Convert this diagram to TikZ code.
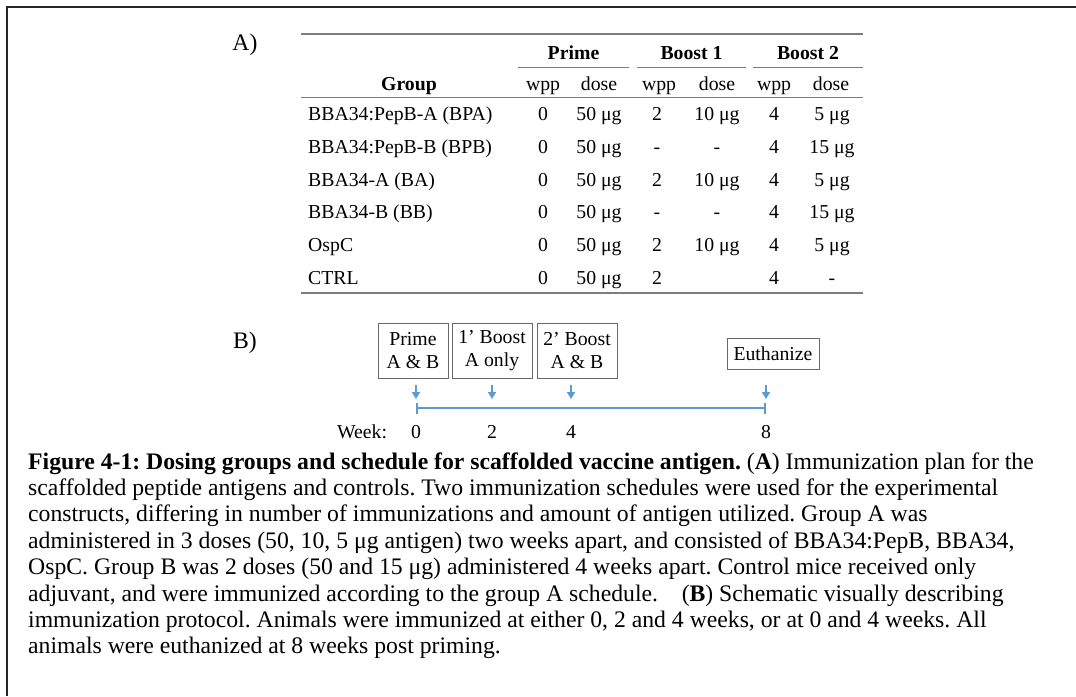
\documentclass[tikz,border=0pt]{standalone}
\usepackage{fontspec}
\setmainfont{Liberation Serif}
\usetikzlibrary{arrows.meta}
\definecolor{rulegray}{RGB}{125,125,125}
\definecolor{tlblue}{RGB}{91,155,213}
\definecolor{boxgray}{RGB}{105,105,105}
\newcommand\tabfont{\fontsize{19.75}{23}\selectfont}
\newcommand\capfont{\fontsize{23.7}{26.4}\selectfont}
\frenchspacing
\begin{document}
\begin{tikzpicture}[x=1pt,y=-1pt,
  cell/.style={anchor=base,inner sep=0pt,font=\tabfont},
  lcell/.style={anchor=base west,inner sep=0pt,font=\tabfont},
  head/.style={cell,font=\tabfont\bfseries},
  rulethick/.style={draw=rulegray,line width=1.6pt},
  rulethin/.style={draw=rulegray,line width=1pt},
  panel/.style={anchor=center,inner sep=0pt,font=\capfont},
  stepbox/.style={draw=boxgray,line width=1pt,inner sep=0pt,align=center,
    font=\fontsize{19.75}{23}\selectfont,minimum height=55pt},
  tick/.style={draw=tlblue,line width=1.6pt,-{Triangle[width=8pt,length=7pt]}},
  weeklbl/.style={anchor=base,inner sep=0pt,font=\tabfont},
  capline/.style={anchor=base west,inner sep=0pt,font=\capfont}]
\useasboundingbox (0,0) rectangle (1076,696);
\fill[white] (0,0) rectangle (1076,696);
% frame
\draw[line width=2pt,black!85] (7,696) -- (7,7) -- (1076,7);

% ---- panel A: dosing table ----
\node[panel] (labA) at (245,45) {A)};
\draw[rulethick] (301,34) -- (863,34);
\node[head] (hPrime) at (573.5,59) {Prime};
\node[head] (hB1) at (691.5,59) {Boost 1};
\node[head] (hB2) at (808,59) {Boost 2};
\draw[rulethin] (518,67) -- (629,67);
\draw[rulethin] (637,67) -- (746,67);
\draw[rulethin] (753,67) -- (863,67);
\node[head] (hGroup) at (409,90) {Group};
\node[cell] (hw1) at (543,90) {wpp};
\node[cell] (hd1) at (599,90) {dose};
\node[cell] (hw2) at (659,90) {wpp};
\node[cell] (hd2) at (717,90) {dose};
\node[cell] (hw3) at (774,90) {wpp};
\node[cell] (hd3) at (831,90) {dose};
\draw[rulethin] (301,97) -- (863,97);
\foreach \r/\y/\g/\a/\b/\c/\d/\e/\f in {
  1/120/BBA34:PepB-A (BPA)/0/50 μg/2/10 μg/4/5 μg,
  2/153/BBA34:PepB-B (BPB)/0/50 μg/-/-/4/15 μg,
  3/186/BBA34-A (BA)/0/50 μg/2/10 μg/4/5 μg,
  4/218/BBA34-B (BB)/0/50 μg/-/-/4/15 μg,
  5/251/OspC/0/50 μg/2/10 μg/4/5 μg,
  6/284/CTRL/0/50 μg/2//4/-}{
  \node[lcell] (g\r) at (308,\y) {\g};
  \node[cell] (w1\r) at (543,\y) {\a};
  \node[cell] (d1\r) at (599,\y) {\b};
  \node[cell] (w2\r) at (657,\y) {\c};
  \node[cell] (d2\r) at (717,\y) {\d};
  \node[cell] (w3\r) at (774,\y) {\e};
  \node[cell] (d3\r) at (832,\y) {\f};
}
\draw[rulethick] (301,293) -- (863,293);

% ---- panel B: schedule ----
\node[panel] (labB) at (245,343) {B)};
\node[stepbox,minimum width=70pt] (prime) at (413,350.5) {Prime\\A \& B};
\node[stepbox,minimum width=80pt] (boost1) at (492,350.5) {1’ Boost\\A only};
\node[stepbox,minimum width=80pt] (boost2) at (577,350.5) {2’ Boost\\A \& B};
\node[stepbox,minimum width=92pt,minimum height=31pt] (euth) at (773,353.5) {Euthanize};

\coordinate (t0) at (416,408);
\coordinate (t2) at (492,408);
\coordinate (t4) at (571,408);
\coordinate (t8) at (766,408);
% short arrows above the timeline (yshift is in page direction: up is positive)
\foreach \t in {0,2,4,8}{
  \coordinate (a\t) at ([yshift=23pt]t\t);
  \coordinate (b\t) at ([yshift=9pt]t\t);
  \draw[tick] (a\t) -- (b\t);
}
\draw[draw=tlblue,line width=1.8pt,{Bar[width=11pt]}-{Bar[width=11pt]}] (t0) -- (t8);

\node[weeklbl] (wk) at (362,438.5) {Week:};
\foreach \t in {0,2,4,8}{
  \node[weeklbl] (n\t) at ([yshift=-30.5pt]t\t) {\t};
}

% ---- caption ----
\node[capline] (c1) at (28,469) {\textbf{Figure 4-1: Dosing groups and schedule for scaffolded vaccine antigen.} (\textbf{A}) Immunization plan for the};
\node[capline] (c2) at (28,495.4) {scaffolded peptide antigens and controls. Two immunization schedules were used for the experimental};
\node[capline] (c3) at (28,521.8) {constructs, differing in number of immunizations and amount of antigen utilized. Group A was};
\node[capline] (c4) at (28,548.2) {administered in 3 doses (50, 10, 5 μg antigen) two weeks apart, and consisted of BBA34:PepB, BBA34,};
\node[capline] (c5) at (28,574.6) {OspC. Group B was 2 doses (50 and 15 μg) administered 4 weeks apart. Control mice received only};
\node[capline] (c6) at (28,601) {adjuvant, and were immunized according to the group A schedule.\ \ \ \ (\textbf{B}) Schematic visually describing};
\node[capline] (c7) at (28,627.4) {immunization protocol. Animals were immunized at either 0, 2 and 4 weeks, or at 0 and 4 weeks. All};
\node[capline] (c8) at (28,653.8) {animals were euthanized at 8 weeks post priming.};
\end{tikzpicture}
\end{document}
